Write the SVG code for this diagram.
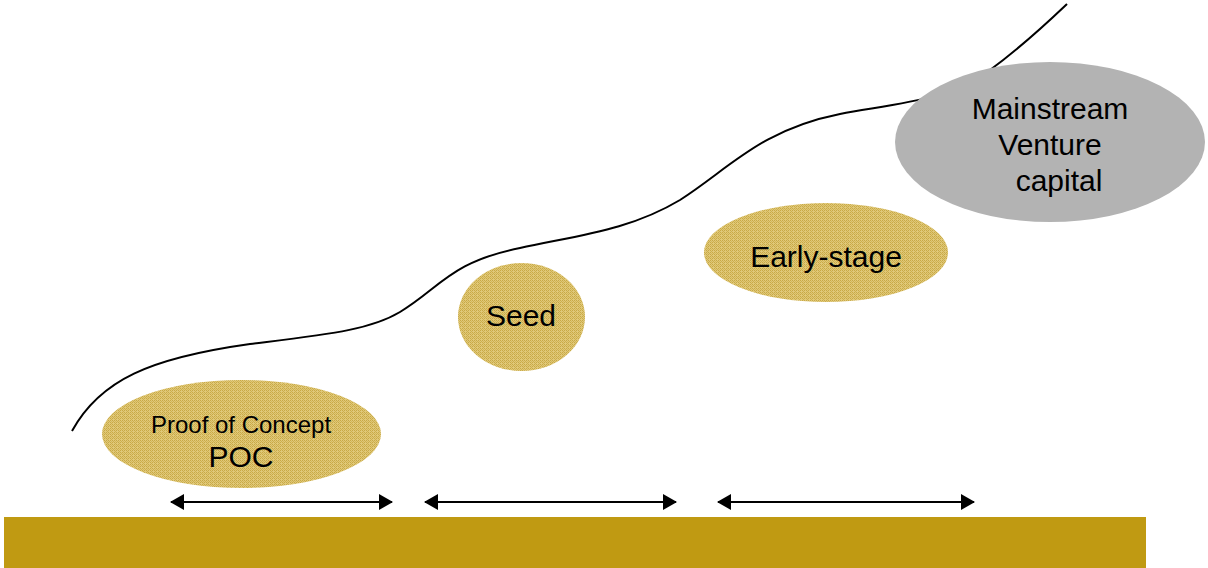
<svg xmlns="http://www.w3.org/2000/svg" width="1208" height="568" viewBox="0 0 1208 568">
  <style>
    .lbl { font-family: "Liberation Sans", Arial, sans-serif; fill: #000; text-anchor: middle; }
    .big { font-size: 30px; }
    .small { font-size: 24px; }
    .gold { fill: url(#tex); }
    .conn { stroke: #000; stroke-width: 2; fill: none; }
  </style>
  <defs>
    <pattern id="tex" width="4" height="4" patternUnits="userSpaceOnUse">
      <rect width="4" height="4" fill="#E0C878"/>
      <rect x="0" y="0" width="1" height="1" fill="#C8A946"/>
      <rect x="2" y="0" width="1" height="1" fill="#C8A946"/>
      <rect x="1" y="1" width="1" height="1" fill="#CDAF4E"/>
      <rect x="3" y="1" width="1" height="1" fill="#D3B75A"/>
      <rect x="0" y="2" width="1" height="1" fill="#C8A946"/>
      <rect x="2" y="2" width="1" height="1" fill="#C8A946"/>
      <rect x="3" y="3" width="1" height="1" fill="#CDAF4E"/>
    </pattern>
    <marker id="ah" viewBox="0 0 14 16" refX="13" refY="8" markerWidth="14" markerHeight="16" markerUnits="userSpaceOnUse" orient="auto-start-reverse">
      <path d="M0,0 L14,8 L0,16 Z" fill="#000"/>
    </marker>
  </defs>

  <rect id="ground" x="4" y="517" width="1142" height="51" fill="#C09A12"/>

  <g id="curve">
    <path class="conn" d="M72,431 C100,380 150,358 250,344 C330,334 370,330 400,312 C440,288 450,262 520,248 C580,235 630,230 680,200 C730,168 760,130 840,114 C900,103 950,100 990,70 C1020,48 1045,25 1067,4"/>
  </g>

  <g id="mainstream">
    <ellipse cx="1050" cy="142" rx="155" ry="80" fill="#B3B3B3"/>
    <text class="lbl big" x="1050" y="119">Mainstream</text>
    <text class="lbl big" x="1050" y="155">Venture</text>
    <text class="lbl big" x="1059" y="191">capital</text>
  </g>

  <g id="poc">
    <ellipse class="gold" cx="241.5" cy="434" rx="139.5" ry="54"/>
    <text class="lbl small" x="241" y="433">Proof of Concept</text>
    <text class="lbl big" x="241" y="467">POC</text>
  </g>

  <g id="seed">
    <ellipse class="gold" cx="521.5" cy="317" rx="63.5" ry="54"/>
    <text class="lbl big" x="521" y="326">Seed</text>
  </g>

  <g id="early">
    <ellipse class="gold" cx="826" cy="252.5" rx="122" ry="49.5"/>
    <text class="lbl big" x="826" y="267">Early-stage</text>
  </g>

  <g id="connectors">
    <line class="conn" x1="171" y1="502" x2="392" y2="502" marker-start="url(#ah)" marker-end="url(#ah)"/>
    <line class="conn" x1="425" y1="502" x2="676" y2="502" marker-start="url(#ah)" marker-end="url(#ah)"/>
    <line class="conn" x1="718" y1="502" x2="974" y2="502" marker-start="url(#ah)" marker-end="url(#ah)"/>
  </g>
</svg>
